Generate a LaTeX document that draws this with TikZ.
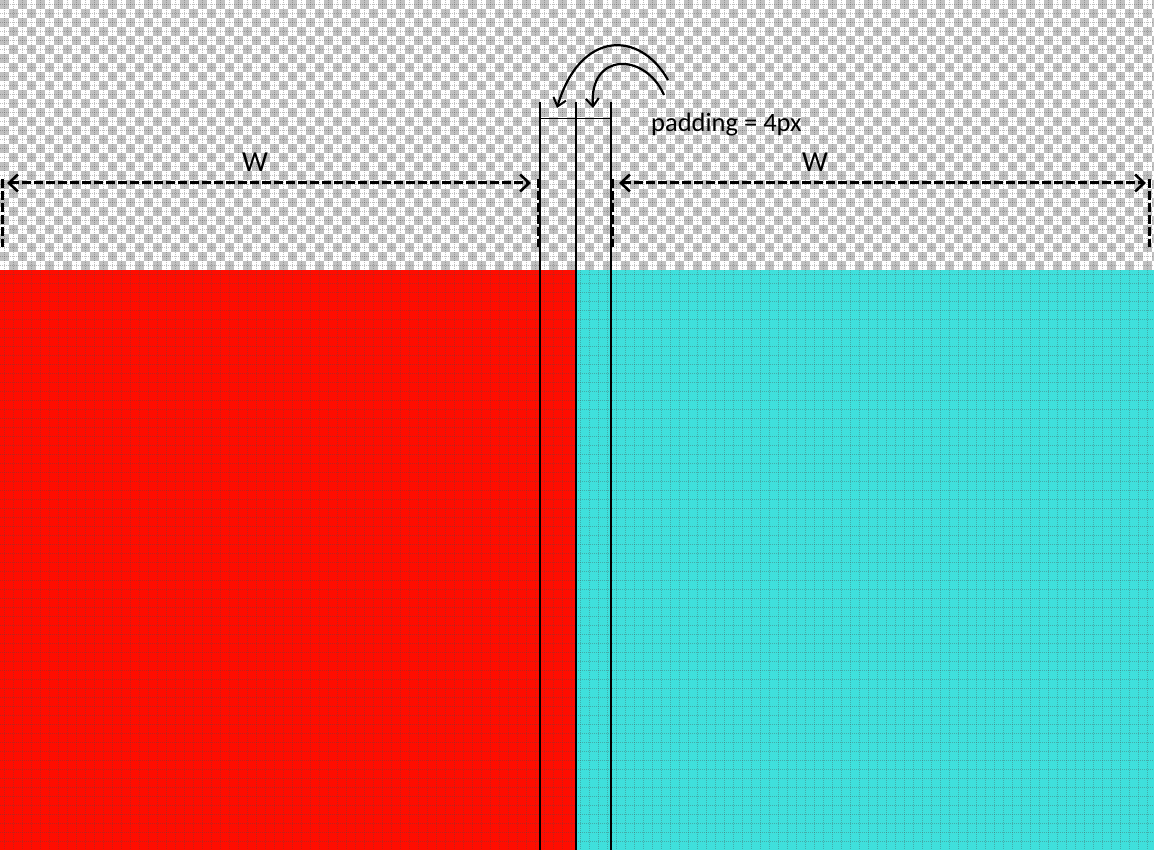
\documentclass[tikz,border=0pt]{standalone}
\usepackage{fontspec}
\setmainfont{Carlito}
\usetikzlibrary{arrows.meta}
\definecolor{chkgray}{HTML}{C0C0C0}
\definecolor{redfill}{HTML}{FF0D00}
\definecolor{cyanfill}{HTML}{3FE0DC}
\tikzset{
  gridline/.style={black!70, line width=0.8pt, dash pattern=on 1pt off 1pt, opacity=0.35},
  sepline/.style={black, line width=2pt},
  dimarrow/.style={black, line width=3pt, dash pattern=on 9pt off 3pt, {Straight Barb[length=9pt,width=17pt,line width=2.6pt]}-{Straight Barb[length=9pt,width=17pt,line width=2.6pt]}},
  dimend/.style={black, line width=3pt, dash pattern=on 9pt off 3pt},
  curvearrow/.style={black, line width=2.2pt, -{Straight Barb[length=8pt,width=13pt,line width=2pt]}},
  lbl/.style={inner sep=0pt, font=\fontsize{26.5}{30}\selectfont},
  wlbl/.style={inner sep=0pt, font=\fontsize{29}{32}\selectfont}
}
\begin{document}
\begin{tikzpicture}[x=1pt,y=-1pt]
\useasboundingbox (0,0) rectangle (1154,850);
% checkerboard background
\fill[white] (0,0) rectangle (1154,270);
\foreach \j in {0,...,29}{
  \pgfmathtruncatemacro\off{mod(\j,2)*9}
  \foreach \i in {0,18,...,1152}{
    \fill[chkgray] (\i+\off,\j*9) rectangle +(9,9);
  }
}
% coloured areas
\fill[redfill] (0,270) rectangle (576,850);
\fill[cyanfill] (576,270) rectangle (1154,850);
% dotted grid
\foreach \x in {4,13,...,1154}{ \draw[gridline] (\x,0) -- (\x,850); }
\foreach \y in {4,13,...,850}{ \draw[gridline] (0,\y) -- (1154,\y); }
% separator lines
\coordinate (l1t) at (540,102); \coordinate (l1b) at (540,850);
\coordinate (l2t) at (576,102); \coordinate (l2b) at (576,850);
\coordinate (l3t) at (611,102); \coordinate (l3b) at (611,850);
\draw[sepline] (l1t) -- (l1b);
\draw[sepline] (l2t) -- (l2b);
\draw[sepline] (l3t) -- (l3b);
\coordinate (hl) at (540,119); \coordinate (hr) at (611,119);
\draw[black, line width=1pt] (hl) -- (hr);
% curved arrows
\coordinate (a1s) at (668,80); \coordinate (a1e) at (557,108);
\coordinate (a2s) at (664,95); \coordinate (a2e) at (593,108);
\draw[curvearrow] (a1s) .. controls (640,30) and (580,30) .. (a1e);
\draw[curvearrow] (a2s) .. controls (645,52) and (589,52) .. (a2e);
\node[lbl, anchor=west] (pad) at (651,125) {padding = 4px};
% dimension arrows
\coordinate (dl1) at (7,183); \coordinate (dl2) at (531,183);
\coordinate (dr1) at (619,183); \coordinate (dr2) at (1146,183);
\draw[dimarrow] (dl1) -- (dl2);
\draw[dimarrow] (dr1) -- (dr2);
\coordinate (vl1t) at (2,179); \coordinate (vl1b) at (2,247);
\coordinate (vl2t) at (538,179); \coordinate (vl2b) at (538,247);
\coordinate (vr1t) at (612,179); \coordinate (vr1b) at (612,247);
\coordinate (vr2t) at (1149,179); \coordinate (vr2b) at (1149,247);
\draw[dimend] (vl1t) -- (vl1b);
\draw[dimend] (vl2t) -- (vl2b);
\draw[dimend] (vr1t) -- (vr1b);
\draw[dimend] (vr2t) -- (vr2b);
\node[wlbl] (w1) at (255,162) {W};
\node[wlbl] (w2) at (815,162) {W};
\end{tikzpicture}
\end{document}
